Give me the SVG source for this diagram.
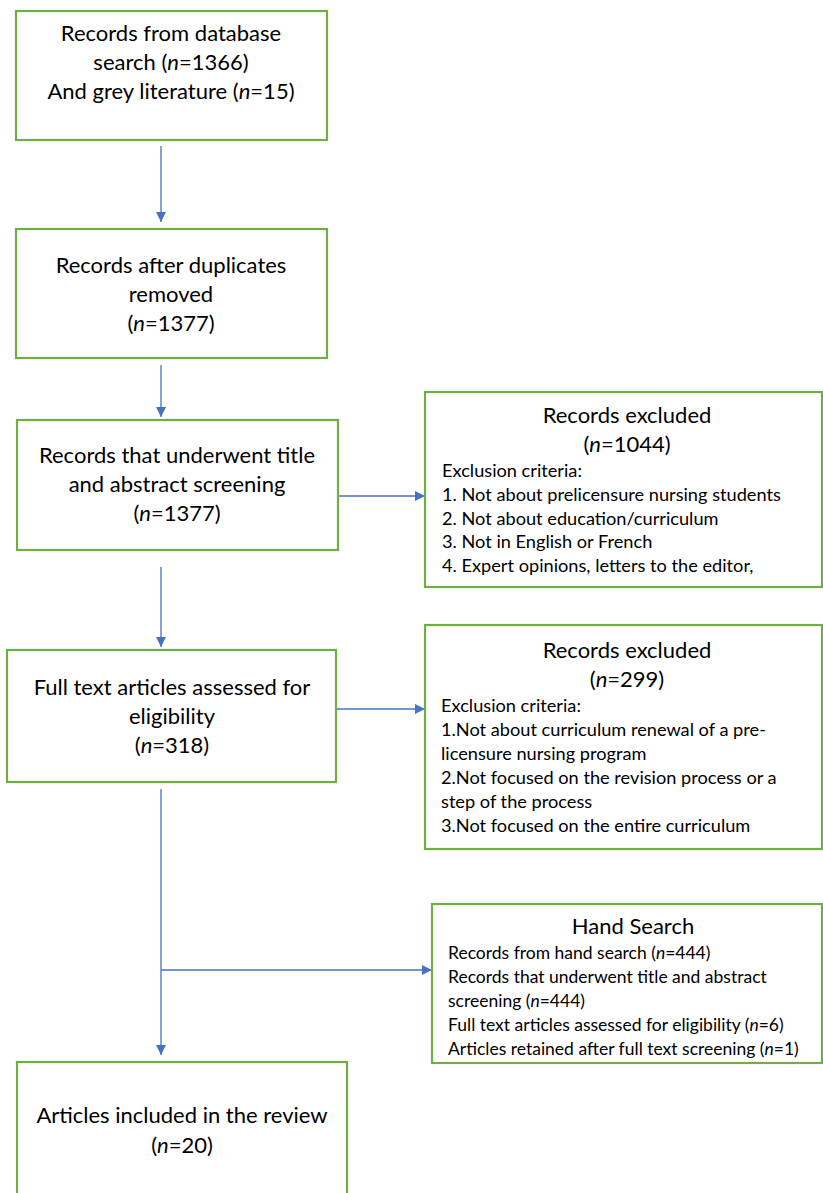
<svg xmlns="http://www.w3.org/2000/svg" width="823" height="1193" viewBox="0 0 823 1193">
<defs>
<style>
.box{fill:#fff;stroke:#70AD47;stroke-width:2.2}
.big{font-family:Lato,"Liberation Sans",sans-serif;font-size:22px;fill:#000;text-anchor:middle}
.sm{font-family:Lato,"Liberation Sans",sans-serif;font-size:18.2px;fill:#000}
.hs{font-family:Lato,"Liberation Sans",sans-serif;font-size:17.5px;fill:#000}
.ttl{font-family:Lato,"Liberation Sans",sans-serif;font-size:22px;fill:#000;text-anchor:middle}
.con{stroke:#4472C4;stroke-width:1.3;fill:none}
</style>
<marker id="ah" markerWidth="10" markerHeight="10" refX="10" refY="5" orient="auto" markerUnits="userSpaceOnUse">
<path d="M0,0 L10,5 L0,10 Z" fill="#4472C4"/>
</marker>
</defs>
<rect width="823" height="1193" fill="#fff"/>
<g id="connectors">
<line class="con" x1="161" y1="146" x2="161" y2="222" marker-end="url(#ah)"/>
<line class="con" x1="161" y1="365" x2="161" y2="417" marker-end="url(#ah)"/>
<line class="con" x1="161" y1="567" x2="161" y2="647" marker-end="url(#ah)"/>
<line class="con" x1="161" y1="789" x2="161" y2="1055" marker-end="url(#ah)"/>
<line class="con" x1="338" y1="496" x2="425" y2="496" marker-end="url(#ah)"/>
<line class="con" x1="336" y1="709" x2="425" y2="709" marker-end="url(#ah)"/>
<line class="con" x1="161" y1="970" x2="432" y2="970" marker-end="url(#ah)"/>
</g>
<g id="n1">
<rect class="box" x="16" y="11" width="311" height="129"/>
<text class="big" x="171" y="41">Records from database</text>
<text class="big" x="171" y="70">search (<tspan font-style="italic">n</tspan>=1366)</text>
<text class="big" x="171" y="99">And grey literature (<tspan font-style="italic">n</tspan>=15)</text>
</g>
<g id="n2">
<rect class="box" x="16" y="229" width="311" height="129"/>
<text class="big" x="171" y="273">Records after duplicates</text>
<text class="big" x="171" y="302">removed</text>
<text class="big" x="171" y="331">(<tspan font-style="italic">n</tspan>=1377)</text>
</g>
<g id="n3">
<rect class="box" x="17" y="420" width="321" height="130"/>
<text class="big" x="177" y="463">Records that underwent title</text>
<text class="big" x="177" y="492">and abstract screening</text>
<text class="big" x="177" y="521">(<tspan font-style="italic">n</tspan>=1377)</text>
</g>
<g id="n4">
<rect class="box" x="425" y="392" width="397" height="195"/>
<text class="ttl" x="627" y="423">Records excluded</text>
<text class="ttl" x="627" y="452">(<tspan font-style="italic">n</tspan>=1044)</text>
<text class="sm" x="442" y="477">Exclusion criteria:</text>
<text class="sm" x="442" y="501">1. Not about prelicensure nursing students</text>
<text class="sm" x="442" y="525">2. Not about education/curriculum</text>
<text class="sm" x="442" y="548">3. Not in English or French</text>
<text class="sm" x="442" y="572">4. Expert opinions, letters to the editor,</text>
</g>
<g id="n5">
<rect class="box" x="7" y="650" width="329" height="132"/>
<text class="big" x="172" y="695">Full text articles assessed for</text>
<text class="big" x="172" y="724">eligibility</text>
<text class="big" x="172" y="753">(<tspan font-style="italic">n</tspan>=318)</text>
</g>
<g id="n6">
<rect class="box" x="425" y="625" width="397" height="224"/>
<text class="ttl" x="627" y="658">Records excluded</text>
<text class="ttl" x="627" y="687">(<tspan font-style="italic">n</tspan>=299)</text>
<text class="sm" x="441" y="712">Exclusion criteria:</text>
<text class="sm" x="441" y="736">1.Not about curriculum renewal of a pre-</text>
<text class="sm" x="441" y="760">licensure nursing program</text>
<text class="sm" x="441" y="784">2.Not focused on the revision process or a</text>
<text class="sm" x="441" y="808">step of the process</text>
<text class="sm" x="441" y="832">3.Not focused on the entire curriculum</text>
</g>
<g id="n7">
<rect class="box" x="432" y="904" width="390" height="159"/>
<text class="ttl" x="633" y="934">Hand Search</text>
<text class="hs" x="448" y="959">Records from hand search (<tspan font-style="italic">n</tspan>=444)</text>
<text class="hs" x="448" y="983">Records that underwent title and abstract</text>
<text class="hs" x="448" y="1007">screening (<tspan font-style="italic">n</tspan>=444)</text>
<text class="hs" x="448" y="1031">Full text articles assessed for eligibility (<tspan font-style="italic">n</tspan>=6)</text>
<text class="hs" x="448" y="1055">Articles retained after full text screening (<tspan font-style="italic">n</tspan>=1)</text>
</g>
<g id="n8">
<rect class="box" x="17" y="1062" width="330" height="140"/>
<text class="big" x="182" y="1123">Articles included in the review</text>
<text class="big" x="182" y="1153">(<tspan font-style="italic">n</tspan>=20)</text>
</g>
</svg>
